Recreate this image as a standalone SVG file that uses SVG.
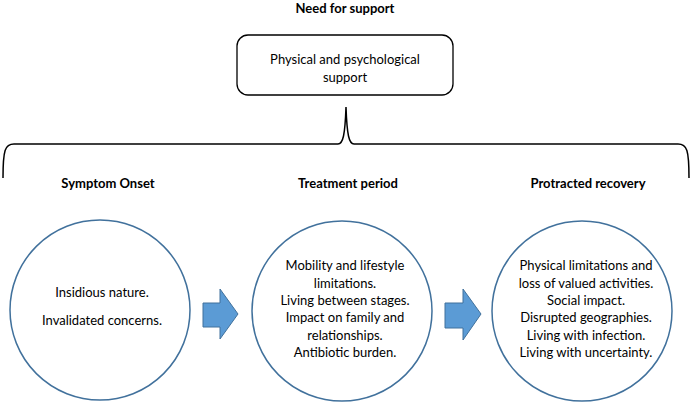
<svg xmlns="http://www.w3.org/2000/svg" width="692" height="404" viewBox="0 0 692 404">
<style>
text{font-family:Lato,"Liberation Sans",sans-serif;fill:#000;text-anchor:middle}
.h{font-weight:bold;font-size:13px}
.t{font-size:13px}
.c{fill:#fff;stroke:#41719c;stroke-width:1.5}
.a{fill:#5b9bd5;stroke:#41719c;stroke-width:1}
.br{fill:none;stroke:#000;stroke-width:1.5}
</style>
<rect width="692" height="404" fill="#fff"/>
<g id="title"><text class="h" x="345" y="13">Need for support</text></g>
<g id="support">
<rect x="237" y="35" width="216" height="60" rx="11" fill="#fff" stroke="#000" stroke-width="1.3"/>
<text class="t" x="345" y="64">Physical and psychological</text>
<text class="t" x="345" y="82">support</text>
</g>
<g id="connectors">
<path class="br" d="M3,178 C3,150 5,144 14,144 L338,144 C343,144 345,135 346,107 C347,135 349,144 354,144 L678,144 C687,144 689,150 689,178"/>
<polygon class="a" points="203,303 220,303 220,289 238,314 220,339 220,327 203,327"/>
<polygon class="a" points="445,303 463,303 463,289 481,314 463,340 463,328 445,328"/>
</g>
<g id="symptom">
<text class="h" x="108" y="188">Symptom Onset</text>
<circle class="c" cx="100" cy="310" r="90"/>
<text class="t" x="102" y="297">Insidious nature.</text>
<text class="t" x="102" y="325">Invalidated concerns.</text>
</g>
<g id="treatment">
<text class="h" x="348" y="188">Treatment period</text>
<circle class="c" cx="342" cy="311" r="90"/>
<text class="t" x="345" y="270">Mobility and lifestyle</text>
<text class="t" x="345" y="288">limitations.</text>
<text class="t" x="345" y="305">Living between stages.</text>
<text class="t" x="345" y="322">Impact on family and</text>
<text class="t" x="345" y="340">relationships.</text>
<text class="t" x="345" y="357">Antibiotic burden.</text>
</g>
<g id="recovery">
<text class="h" x="588" y="188">Protracted recovery</text>
<circle class="c" cx="582" cy="311" r="90"/>
<text class="t" x="586" y="270">Physical limitations and</text>
<text class="t" x="586" y="288">loss of valued activities.</text>
<text class="t" x="586" y="305">Social impact.</text>
<text class="t" x="586" y="322">Disrupted geographies.</text>
<text class="t" x="586" y="340">Living with infection.</text>
<text class="t" x="586" y="357">Living with uncertainty.</text>
</g>
</svg>
